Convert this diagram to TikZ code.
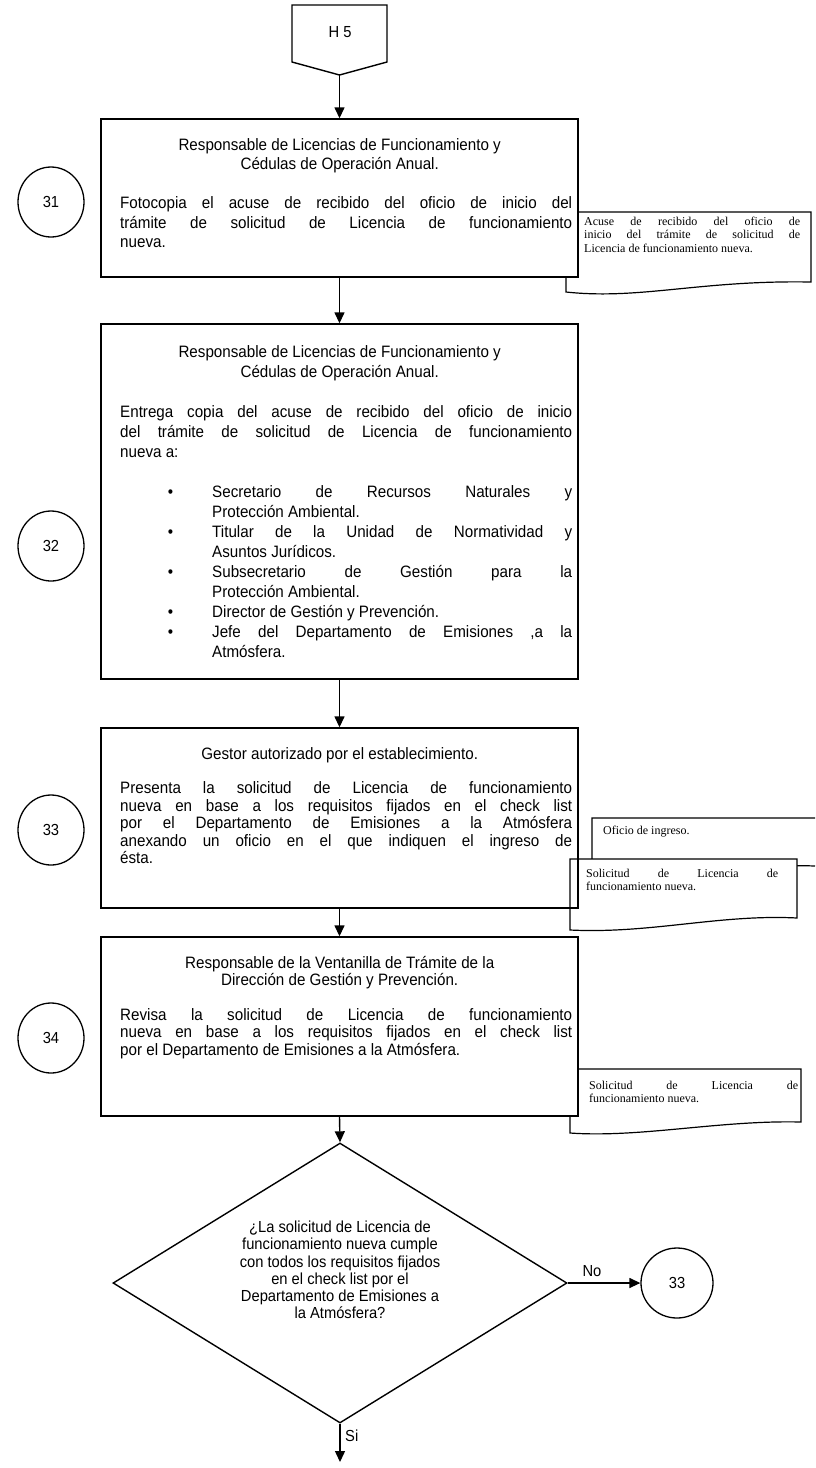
\documentclass[tikz,border=0pt]{standalone}
\usepackage{fontspec}
\setmainfont{Liberation Sans}[FakeStretch=0.92]
\newfontfamily\docfont{Liberation Serif}
\usetikzlibrary{arrows.meta,shapes.geometric}
\newcommand\mysetup{\tolerance=10000\hbadness=10000\hyphenpenalty=10000\exhyphenpenalty=10000\parindent=0pt\relax}
\newcommand\dfnt{\docfont\fontsize{12}{13.3}\selectfont\mysetup}
\newcommand\mybul{\leavevmode\llap{\textbullet\hspace{39pt}}}
\newcommand\mytitle[1]{{\centering\rightskip=13pt plus 1fil #1\par}}
\tikzset{
  ln/.style={line width=1.4pt},
  flow/.style={line width=1.4pt,-{Triangle[length=11pt,width=10pt]}},
  procbox/.style={draw,line width=1.4pt,minimum width=477pt,inner sep=0pt},
  numcirc/.style={draw,ellipse,line width=1.3pt,fill=white,minimum width=66pt,minimum height=70pt,inner sep=0pt,font=\fontsize{16}{18}\selectfont},
  bodytxt/.style={text width=452pt,align=justify,inner sep=0pt,anchor=north west},
  doctxt/.style={align=justify,inner sep=0pt,anchor=north west,font=\dfnt},
  docshape/.style={draw,line width=1.2pt,fill=white},
  lbl/.style={inner sep=0pt,font=\fontsize{16}{18}\selectfont},
}
\begin{document}
\begin{tikzpicture}[x=1pt,y=-1pt]
\fill[white] (0,0) rectangle (815,1468);
\useasboundingbox (0,0) rectangle (815,1468);

% off-page connector H 5
\draw[ln,fill=white] (292,5) -- (387,5) -- (387,62) -- (339.5,75) -- (292,62) -- cycle;
\node[lbl] (h5t) at (340,32) {H 5};
\coordinate (h5tip) at (339.5,75);

% documents (drawn first)
\draw[docshape] (566,212) -- (811,212) -- (811,282) .. controls (700,280) and (640,300) .. (566,292) -- cycle;
\node[doctxt,text width=216pt] (d31) at (584,217) {Acuse de recibido del oficio de\linebreak inicio del trámite de solicitud de\linebreak Licencia de funcionamiento nueva.};

\draw[line width=1.2pt] (815,818) -- (592,818) -- (592,870) .. controls (700,872) and (760,864) .. (815,866);
\node[doctxt,anchor=west] (d33a) at (603,832) {Oficio de ingreso.};
\draw[docshape] (570,859) -- (797,859) -- (797,918) .. controls (720,914) and (650,934) .. (570,930) -- cycle;
\node[doctxt,text width=192pt] (d33b) at (586,869) {Solicitud de Licencia de\linebreak funcionamiento nueva.};

\draw[docshape] (570,1069) -- (801,1069) -- (801,1122) .. controls (720,1120) and (640,1138) .. (570,1133) -- cycle;
\node[doctxt,text width=209pt] (d34) at (589,1081) {Solicitud de Licencia de\linebreak funcionamiento nueva.};

% process boxes
\node[procbox,fill=white,minimum height=158pt] (b31) at (339.5,198) {};
\node[procbox,fill=white,minimum height=355pt] (b32) at (339.5,501.5) {};
\node[procbox,minimum height=180pt] (b33) at (339.5,818) {};
\node[procbox,fill=white,minimum height=179pt] (b34) at (339.5,1026.5) {};

\node[bodytxt,font=\fontsize{16.5}{19.5}\selectfont\mysetup] (t31) at (120,138) {\mytitle{Responsable de Licencias de Funcionamiento y\\Cédulas de Operación Anual.}
\vspace{\baselineskip}
Fotocopia el acuse de recibido del oficio de inicio del\linebreak trámite de solicitud de Licencia de funcionamiento\linebreak nueva.\par};

\node[bodytxt,font=\fontsize{16.5}{20}\selectfont\mysetup] (t32) at (120,345) {\mytitle{Responsable de Licencias de Funcionamiento y\\Cédulas de Operación Anual.}
\vspace{\baselineskip}
Entrega copia del acuse de recibido del oficio de inicio\linebreak del trámite de solicitud de Licencia de funcionamiento\linebreak nueva a:\par
\vspace{\baselineskip}
{\leftskip=92pt
\mybul Secretario de Recursos Naturales y\linebreak Protección Ambiental.\par
\mybul Titular de la Unidad de Normatividad y\linebreak Asuntos Jurídicos.\par
\mybul Subsecretario de Gestión para la\linebreak Protección Ambiental.\par
\mybul Director de Gestión y Prevención.\par
\mybul Jefe del Departamento de Emisiones ,a la\linebreak Atmósfera.\par}};

\node[bodytxt,font=\fontsize{16.5}{17.4}\selectfont\mysetup] (t33) at (120,747) {\mytitle{Gestor autorizado por el establecimiento.}
\vspace{\baselineskip}
Presenta la solicitud de Licencia de funcionamiento\linebreak nueva en base a los requisitos fijados en el check list\linebreak por el Departamento de Emisiones a la Atmósfera\linebreak anexando un oficio en el que indiquen el ingreso de\linebreak ésta.\par};

\node[bodytxt,font=\fontsize{16.5}{17.4}\selectfont\mysetup] (t34) at (120,956) {\mytitle{Responsable de la Ventanilla de Trámite de la\\Dirección de Gestión y Prevención.}
\vspace{\baselineskip}
Revisa la solicitud de Licencia de funcionamiento\linebreak nueva en base a los requisitos fijados en el check list\linebreak por el Departamento de Emisiones a la Atmósfera.\par};

% step number circles
\node[numcirc] (c31) at (51,202) {31};
\node[numcirc] (c32) at (51,546) {32};
\node[numcirc] (c33) at (51,830) {33};
\node[numcirc] (c34) at (51,1038) {34};

% decision
\node[draw,diamond,line width=1.4pt,minimum width=454pt,minimum height=280pt,inner sep=0pt] (dec) at (340,1283) {};
\node[align=center,inner sep=0pt,font=\fontsize{16}{17.3}\selectfont] (dtx) at (340,1270) {¿La solicitud de Licencia de\\funcionamiento nueva cumple\\con todos los requisitos fijados\\en el check list por el\\Departamento de Emisiones a\\la Atmósfera?};
\node[numcirc,minimum width=72pt] (c33r) at (677,1283) {33};
\coordinate (send) at (340,1462);

% connectors
\draw[flow] (h5tip) -- (b31.north);
\draw[flow] (b31.south) -- (b32.north);
\draw[flow] (b32.south) -- (b33.north);
\draw[flow] (b33.south) -- (b34.north);
\draw[flow] (b34.south) -- (dec.north);
\draw[flow] (dec.east) -- (c33r.west);
\draw[flow] (dec.south) -- (send);
\node[lbl,anchor=south] (lno) at (592,1277) {No};
\node[lbl,anchor=west] (lsi) at (345,1436) {Si};
\end{tikzpicture}
\end{document}
